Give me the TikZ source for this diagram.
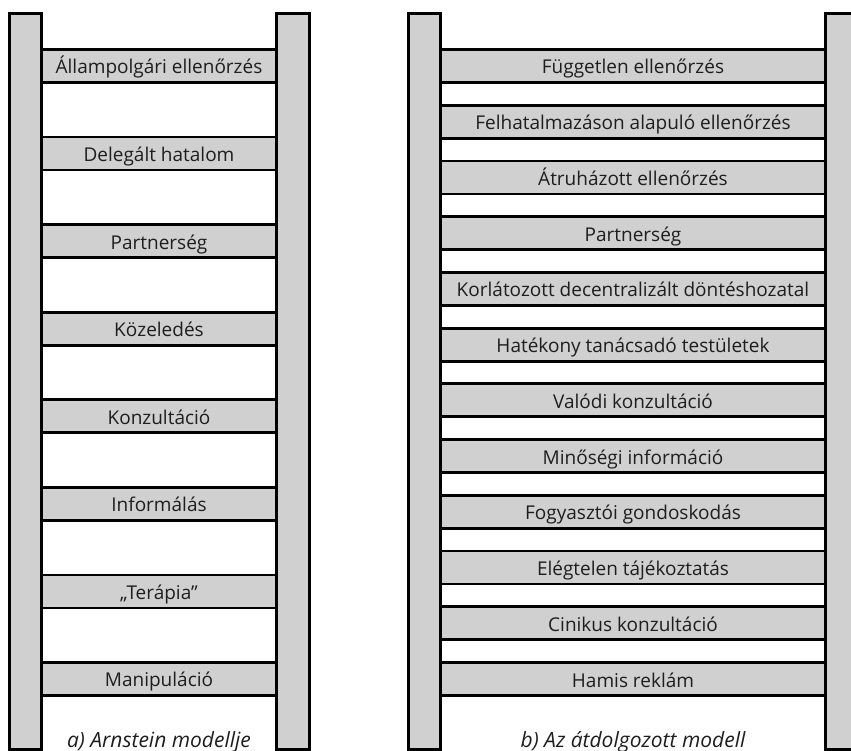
\documentclass[tikz,border=0pt]{standalone}
\usepackage{fontspec}
\setmainfont{Open Sans}
\begin{document}
\begin{tikzpicture}[x=1bp, y=-1bp,
  rail/.style={draw=black, fill=railgray, line width=2.8bp},
  rung/.style={draw=black, fill=railgray, line width=2.8bp, rectangle,
    minimum height=33bp, inner ysep=0pt, text height=20bp, text depth=4bp,
    font=\fontsize{19bp}{22bp}\selectfont, text=textgray},
  caption/.style={font=\fontsize{21bp}{24bp}\selectfont\itshape, text=textgray, anchor=base}]
\definecolor{railgray}{RGB}{208,208,208}
\definecolor{textgray}{RGB}{30,30,30}
\useasboundingbox (0,0) rectangle (851,751);
\clip (0,0) rectangle (851,751);

% ladder a): eight rungs
\foreach \t [count=\i from 0] in {%
  Állampolgári ellenőrzés, Delegált hatalom, Partnerség, Közeledés,
  Konzultáció, Informálás, „Terápia”, Manipuláció}
  \node[rung, minimum width=236bp] (a\i) at (159, 66+87.57*\i) {\t};

% ladder b): twelve rungs
\foreach \t [count=\i from 0] in {%
  Független ellenőrzés, Felhatalmazáson alapuló ellenőrzés,
  Átruházott ellenőrzés, Partnerség,
  Korlátozott decentralizált döntéshozatal, Hatékony tanácsadó testületek,
  Valódi konzultáció, Minőségi információ, Fogyasztói gondoskodás,
  Elégtelen tájékoztatás, Cinikus konzultáció, Hamis reklám}
  \node[rung, minimum width=386bp] (b\i) at (633, 66+55.73*\i) {\t};

% side rails
\draw[rail] (9.5,13.5) rectangle (41.5,749.5);
\draw[rail] (276.5,13.5) rectangle (309.5,749.5);
\draw[rail] (408.5,13.5) rectangle (440.5,749.5);
\draw[rail] (825.5,13.5) rectangle (860,749.5);

% captions
\node[caption] (capa) at (159,747) {a) Arnstein modellje};
\node[caption] (capb) at (633,747) {b) Az átdolgozott modell};
\end{tikzpicture}
\end{document}
